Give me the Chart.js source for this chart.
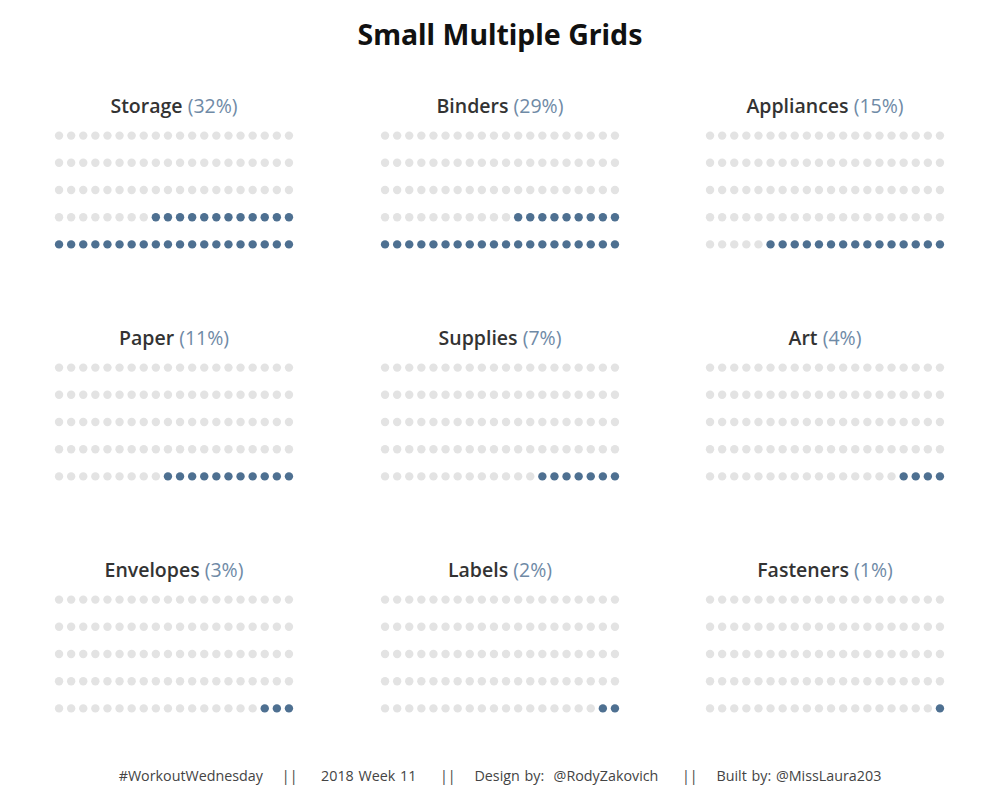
<!DOCTYPE html>
<html lang="en">
<head>
    <meta charset="UTF-8">
    <title>Small Multiple Grids</title>
    <script src="https://cdn.jsdelivr.net/npm/chart.js"></script>
    <style>
        body { margin: 0; background: #fff; font-family: "Open Sans", sans-serif; }
        #page { position: relative; width: 1000px; height: 800px; }
        h1 { position: absolute; top: 15px; left: 0; width: 1000px; margin: 0; text-align: center;
             font-family: "Noto Sans", sans-serif; font-size: 28.5px; font-weight: bold; color: #111; }
        .label { position: absolute; width: 300px; text-align: center; font-size: 19.5px; color: #333; }
        .label b { font-weight: 600; }
        .label span { color: #6f8aa6; }
        .cell { position: absolute; width: 242px; height: 136px; }
        #footer { position: absolute; top: 766px; left: 0; width: 1000px; text-align: center;
                  font-size: 14.3px; color: #444; word-spacing: 1px; }
    </style>
</head>
<body>
<div id="page">
    <h1>Small Multiple Grids</h1>
    <div id="footer">#WorkoutWednesday &nbsp; &nbsp;|| &nbsp; &nbsp; 2018 Week 11 &nbsp; &nbsp; || &nbsp; &nbsp;Design by: &nbsp;@RodyZakovich &nbsp; &nbsp; || &nbsp; &nbsp;Built by: @MissLaura203</div>
</div>

<script>
    // categories and their share (%), one grid of 100 dots each
    const categories = ['Storage', 'Binders', 'Appliances', 'Paper', 'Supplies', 'Art', 'Envelopes', 'Labels', 'Fasteners'];
    const percents = [32, 29, 15, 11, 7, 4, 3, 2, 1];

    const COLS = 20;
    const ROWS = 5;
    const filledColor = '#4e7091';
    const emptyColor = '#e3e3e3';

    const page = document.getElementById('page');
    const gridLeft = [53, 379, 704];
    const gridTop = [122, 354, 586];

    categories.forEach((name, i) => {
        const col = i % 3;
        const row = Math.floor(i / 3);

        const label = document.createElement('div');
        label.className = 'label';
        label.style.left = (gridLeft[col] + 121 - 150) + 'px';
        label.style.top = (gridTop[row] - 30) + 'px';
        label.innerHTML = '<b>' + name + '</b> <span>(' + percents[i] + '%)</span>';
        page.appendChild(label);

        const box = document.createElement('div');
        box.className = 'cell';
        box.style.left = gridLeft[col] + 'px';
        box.style.top = gridTop[row] + 'px';
        const canvas = document.createElement('canvas');
        canvas.width = 242;
        canvas.height = 136;
        box.appendChild(canvas);
        page.appendChild(box);

        // fill from bottom-right, leftwards, then up a row
        const points = [];
        const colors = [];
        for (let r = 0; r < ROWS; r++) {
            for (let c = 0; c < COLS; c++) {
                const order = r * COLS + (COLS - 1 - c);
                points.push({ x: c, y: r });
                colors.push(order < percents[i] ? filledColor : emptyColor);
            }
        }

        new Chart(canvas, {
            type: 'scatter',
            data: {
                datasets: [{
                    data: points,
                    pointRadius: 4.2,
                    pointHoverRadius: 4.2,
                    pointBackgroundColor: colors,
                    pointBorderWidth: 0
                }]
            },
            options: {
                responsive: false,
                animation: false,
                maintainAspectRatio: false,
                layout: { padding: 0, autoPadding: false },
                plugins: { legend: { display: false }, tooltip: { enabled: false } },
                scales: {
                    x: { type: 'linear', min: -0.5, max: COLS - 0.5, display: false },
                    y: { type: 'linear', min: -0.5, max: ROWS - 0.5, display: false }
                }
            }
        });
    });
</script>
</body>
</html>
